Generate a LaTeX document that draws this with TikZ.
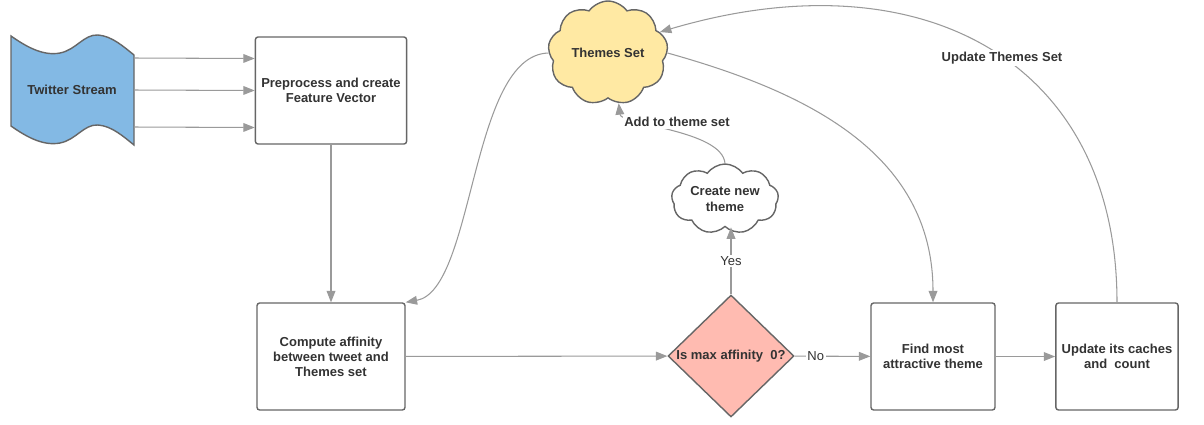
\documentclass[tikz,border=0pt]{standalone}
\usepackage{fontspec}
\setmainfont{Liberation Sans}
\usetikzlibrary{shapes,arrows.meta,calc,positioning}

\definecolor{streamblue}{HTML}{83B9E4}
\definecolor{themeyellow}{HTML}{FFE9A3}
\definecolor{decisionpink}{HTML}{FFBBB1}
\definecolor{edgegray}{HTML}{9A9A9A}
\definecolor{linegray}{HTML}{666666}
\definecolor{textgray}{HTML}{333333}

\tikzset{
  boldtext/.style={text=textgray,font=\fontsize{7.4}{8.6}\selectfont\bfseries,align=center},
  stepbox/.style={boldtext,draw=linegray,line width=0.8pt,rounded corners=1.5pt,fill=white,minimum height=2.14cm},
  themecloud/.style={boldtext,cloud,cloud ignores aspect,cloud puffs=9,cloud puff arc=110,draw=linegray,line width=0.8pt,inner sep=0pt},
  decision/.style={diamond,draw=linegray,line width=0.8pt,fill=decisionpink,minimum width=2.52cm,minimum height=2.44cm,inner sep=0pt},
  flow/.style={draw=edgegray,line width=0.6pt,-{Triangle[length=6.5pt,width=5pt]}},
  flowlabel/.style={fill=white,inner sep=1pt,text=textgray,font=\fontsize{7.4}{8.6}\selectfont}
}

\begin{document}
\begin{tikzpicture}[x=0.02cm,y=-0.02cm]
  \useasboundingbox (0,0) rectangle (1204,424);

  % input stream (wavy tape)
  \draw[draw=linegray,line width=0.8pt,fill=streamblue]
    (11,36) .. controls (28,48) and (44,56) .. (60,53)
            .. controls (76,50) and (84,34) .. (98,35)
            .. controls (112,36) and (124,47) .. (134,55)
    -- (134,145)
            .. controls (124,137) and (112,126) .. (98,125)
            .. controls (84,124) and (76,140) .. (60,143)
            .. controls (44,146) and (28,138) .. (11,126)
    -- cycle;
  \node[boldtext,minimum width=2.46cm,minimum height=1.8cm](stream) at (72,90) {Twitter Stream};

  % processing steps
  \node[stepbox,minimum width=2.96cm](pre) at (331,90.5) {Preprocess and create\\Feature Vector};
  \node[stepbox,minimum width=2.96cm](compute) at (331,356.5) {Compute affinity\\between tweet and\\Themes set};
  \node[decision](check) at (731,356) {};
  \node[boldtext](checktext) at (check.center) {Is max affinity\ \ 0?};
  \node[stepbox,minimum width=2.48cm](find) at (933,356.5) {Find most\\attractive theme};
  \node[stepbox,minimum width=2.44cm](update) at (1117,356.5) {Update its caches\\and\ \ count};

  % clouds
  \node[themecloud,fill=themeyellow,minimum width=2.4cm,minimum height=2.08cm](themes) at (608,53) {Themes Set};
  \node[themecloud,fill=white,minimum width=2.14cm,minimum height=1.4cm](newtheme) at (725,199) {Create new\\theme};

  % straight connectors
  \draw[flow] ($(stream.east)+(0,-32)$) -- ($(pre.west)+(0,-32)$);
  \draw[flow] (stream.east) -- (pre.west);
  \draw[flow] ($(stream.east)+(0,37)$) -- ($(pre.west)+(0,37)$);
  \draw[flow] (pre) -- (compute);
  \draw[flow] (compute) -- (check);
  \draw[flow] (check) -- node[flowlabel,pos=0.28]{No} (find);
  \draw[flow] (find) -- (update);
  \draw[flow] (check.north) -- node[flowlabel]{Yes} (check.north |- newtheme.south);

  % curved connectors
  \draw[flow] (themes.west) .. controls (470,55) and (475,290) .. (compute.north east);
  \draw[flow] (themes.east) .. controls (800,90) and (933,150) .. (find.north);
  \draw[flow] (update.north) .. controls (1117,60) and (920,-45) .. (themes.22);
  \node[flowlabel,font=\fontsize{7.4}{8.6}\selectfont\bfseries](updlabel) at (1002,58) {Update Themes Set};
  \draw[flow] (newtheme.north) .. controls (722,130) and (621,125) .. (themes.-78);
  \node[flowlabel,font=\fontsize{7.4}{8.6}\selectfont\bfseries](addlabel) at (677,122) {Add to theme set};
\end{tikzpicture}
\end{document}
